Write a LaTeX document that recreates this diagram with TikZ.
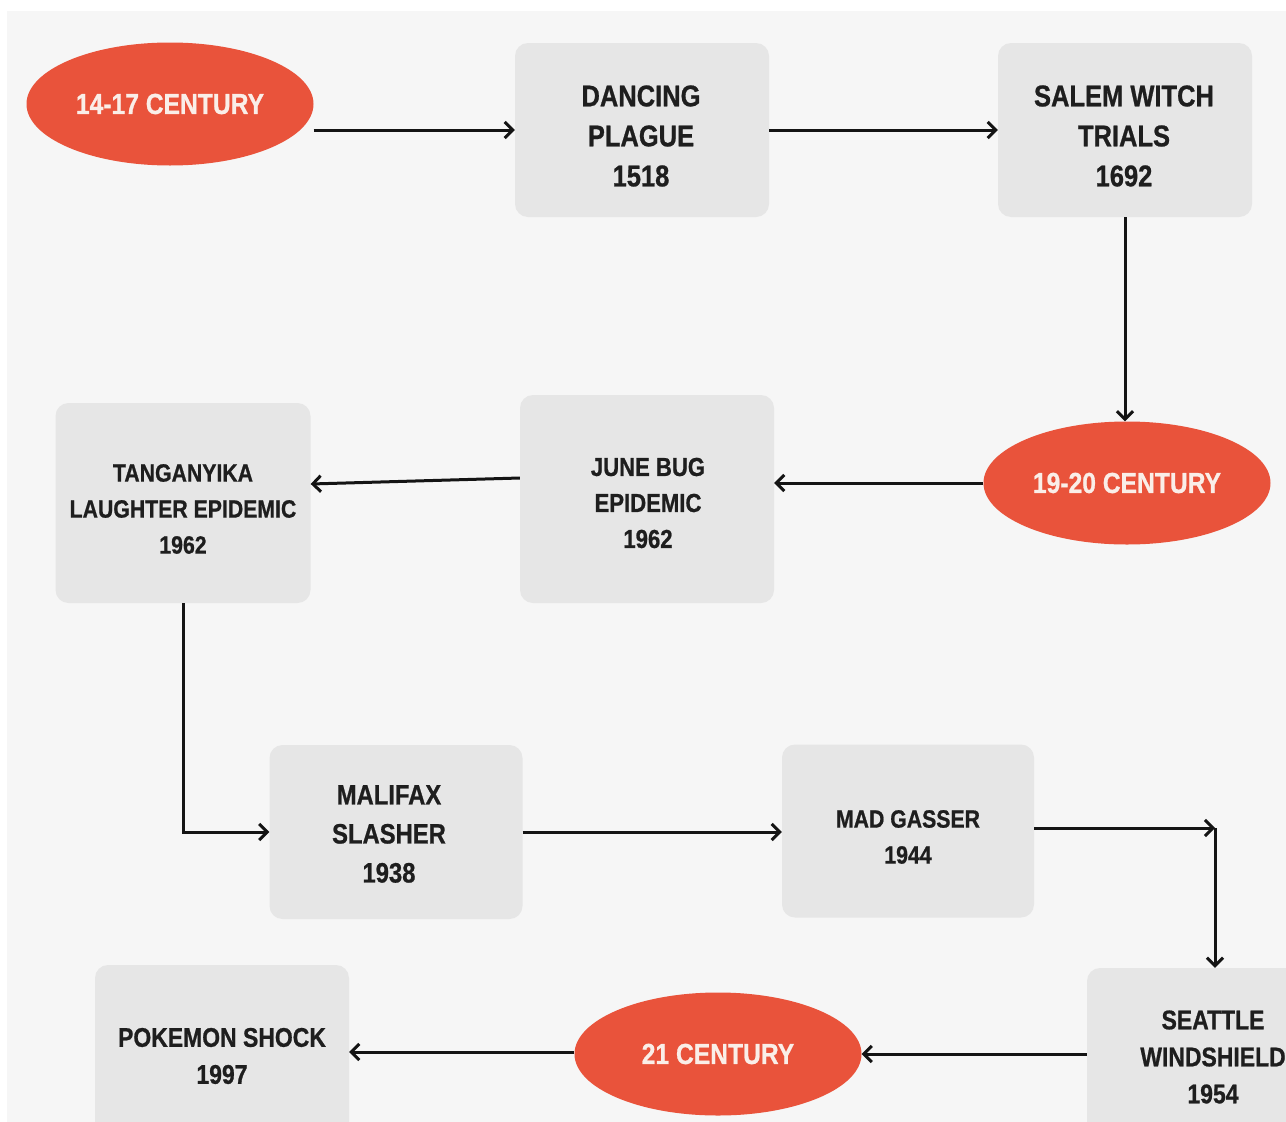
\documentclass[tikz,border=0pt]{standalone}
\usepackage{fontspec}
\newfontfamily\condfont{Liberation Sans}[FakeStretch=0.85, UprightFont={* Bold}, FakeBold=0.8]
\usetikzlibrary{shapes.geometric,arrows.meta}
\definecolor{bgcol}{HTML}{F6F6F6}
\definecolor{boxcol}{HTML}{E6E6E6}
\definecolor{redcol}{HTML}{E9533B}
\definecolor{etext}{HTML}{FAEEE8}
\definecolor{btext}{HTML}{1E1E1E}
\tikzset{
  eventbox/.style={rectangle, rounded corners=13pt, fill=boxcol, draw=none, inner sep=0pt},
  eventtext/.style={align=center, text=btext, inner sep=0pt},
  eraoval/.style={ellipse, fill=redcol, draw=none, inner sep=0pt,
    text=etext, minimum width=287pt, minimum height=123pt,
    font=\condfont\fontsize{29}{36}\selectfont},
  flow/.style={-{Straight Barb[length=8pt,width=16pt,line width=3pt]}, line width=3pt, black!92}
}
\begin{document}
\begin{tikzpicture}[x=1pt,y=-1pt]
\useasboundingbox (0,0) rectangle (1286,1122);
\clip (0,0) rectangle (1286,1122);
\fill[white] (0,0) rectangle (1286,1122);
\fill[bgcol] (7,11) rectangle (1290,1126);

\node[eraoval] (e1) at (170,104) {14-17 CENTURY};
\node[eventbox, minimum width=254pt, minimum height=174pt] (dancing) at (642,130) {};
\node[eventtext, font=\condfont\fontsize{30}{40}\selectfont] (dancingt) at (641,136) {DANCING\\PLAGUE\\1518};
\node[eventbox, minimum width=254pt, minimum height=174pt] (salem) at (1125,130) {};
\node[eventtext, font=\condfont\fontsize{30}{40}\selectfont] (salemt) at (1124,136) {SALEM WITCH\\TRIALS\\1692};
\node[eraoval] (e2) at (1127,483) {19-20 CENTURY};
\node[eventbox, minimum width=254pt, minimum height=208pt] (june) at (647,499) {};
\node[eventtext, font=\condfont\fontsize{26}{36}\selectfont] (junet) at (648,503) {JUNE BUG\\EPIDEMIC\\1962};
\node[eventbox, minimum width=255pt, minimum height=200pt] (tang) at (183,503) {};
\node[eventtext, font=\condfont\fontsize{25}{36}\selectfont] (tangt) at (183,509) {TANGANYIKA\\LAUGHTER EPIDEMIC\\1962};
\node[eventbox, minimum width=253pt, minimum height=174pt] (malifax) at (396,832) {};
\node[eventtext, font=\condfont\fontsize{28}{39}\selectfont] (malifaxt) at (389,834) {MALIFAX\\SLASHER\\1938};
\node[eventbox, minimum width=252pt, minimum height=173pt] (mad) at (908,831) {};
\node[eventtext, font=\condfont\fontsize{25}{36}\selectfont] (madt) at (908,837) {MAD GASSER\\1944};
\node[eventbox, minimum width=252pt, minimum height=180pt] (seattle) at (1213,1058) {};
\node[eventtext, font=\condfont\fontsize{27}{37}\selectfont] (seattlet) at (1213,1057) {SEATTLE\\WINDSHIELD\\1954};
\node[eraoval] (e3) at (718,1054) {21 CENTURY};
\node[eventbox, minimum width=254pt, minimum height=180pt] (pokemon) at (222,1055) {};
\node[eventtext, font=\condfont\fontsize{27}{37}\selectfont] (pokemont) at (222,1056) {POKEMON SHOCK\\1997};

\coordinate (c1) at (1215,828);

\draw[flow] (e1.east |- dancing.west) -- (dancing.west);
\draw[flow] (dancing.east) -- (salem.west);
\draw[flow] (salem.south) -- (salem.south |- e2.north);
\draw[flow] (e2.west) -- (e2.west -| june.east);
\draw[flow] ([yshift=21pt]june.west) -- ([yshift=19pt]tang.east);
\draw[flow] (tang.south) |- (malifax.west);
\draw[flow] (malifax.east) -- (malifax.east -| mad.west);
\draw[flow] (mad.east |- c1) -- (c1);
\draw[flow] (c1) -- (c1 |- seattle.north);
\draw[flow] (e3.east -| seattle.west) -- (e3.east);
\draw[flow] ([yshift=2pt]e3.west) -- ([yshift=2pt]e3.west -| pokemon.east);
\end{tikzpicture}
\end{document}
